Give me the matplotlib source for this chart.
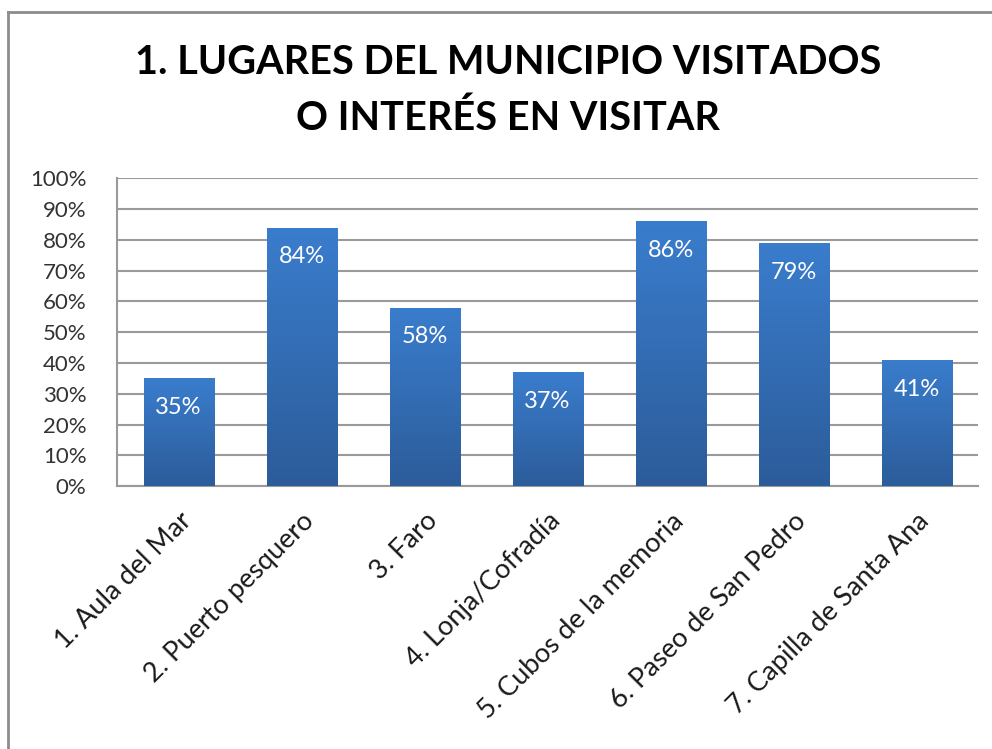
import matplotlib.pyplot as plt
import numpy as np
from matplotlib.lines import Line2D
from matplotlib.colors import LinearSegmentedColormap

lugares = ['1. Aula del Mar', '2. Puerto pesquero', '3. Faro', '4. Lonja/Cofradía',
           '5. Cubos de la memoria', '6. Paseo de San Pedro', '7. Capilla de Santa Ana']
porcentajes = [35, 84, 58, 37, 86, 79, 41]
yticks = [0, 10, 20, 30, 40, 50, 60, 70, 80, 90, 100]

plt.rcParams['font.family'] = ['Lato', 'DejaVu Sans']

fig = plt.figure(figsize=(9.92, 7.49), dpi=100)
ax = fig.add_axes([0.118, 0.351, 0.868, 0.411])

x = np.arange(len(lugares))
bars = ax.bar(x, porcentajes, width=0.57, color='#3572bd', zorder=3)

# gradiente vertical dentro de cada barra
cmap = LinearSegmentedColormap.from_list('azul', ['#2c5c9a', '#3a7dcd'])
grad = np.linspace(0, 1, 256).reshape(-1, 1)
for b in bars:
    x0, y0 = b.get_x(), b.get_y()
    w, h = b.get_width(), b.get_height()
    im = ax.imshow(grad, cmap=cmap, origin='lower', aspect='auto',
                   extent=[x0, x0 + w, y0, y0 + h], zorder=3)
    im.set_clip_path(b)

for xi, v in zip(x, porcentajes):
    ax.annotate(f'{v}%', (xi, v), xytext=(0, -21), textcoords='offset points',
                ha='center', va='center', color='white', fontsize=17, zorder=4)

ax.set_xlim(-0.5, len(lugares) - 0.5)
ax.set_ylim(0, 100)
ax.set_yticks(yticks)
ax.set_yticklabels([f'{t}%' for t in yticks], fontsize=16, color='#333333')
ax.set_xticks(x)
ax.set_xticklabels(lugares, rotation=45, ha='right', va='top',
                   rotation_mode='anchor', fontsize=19.5, color='#1a1a1a')
ax.tick_params(axis='both', length=0)
ax.tick_params(axis='y', pad=22)
ax.tick_params(axis='x', pad=16)
ax.grid(axis='y', color='#9a9a9a', linewidth=1.5, zorder=0)
for s in ['top', 'right']:
    ax.spines[s].set_visible(False)
ax.spines['left'].set_color('#9a9a9a')
ax.spines['bottom'].set_color('#9a9a9a')
ax.spines['left'].set_linewidth(1.5)
ax.spines['bottom'].set_linewidth(1.5)

fig.text(0.512, 0.879, '1. LUGARES DEL MUNICIPIO VISITADOS\nO INTERÉS EN VISITAR',
         ha='center', va='center', fontsize=28.5, fontweight='bold', linespacing=1.6)

# borde del gráfico
fig.add_artist(Line2D([0.008, 1], [0.984, 0.984], color='#8c8c8c', linewidth=2))
fig.add_artist(Line2D([0.008, 0.008], [0, 0.984], color='#8c8c8c', linewidth=2))

fig.savefig('out.png', dpi=100)
